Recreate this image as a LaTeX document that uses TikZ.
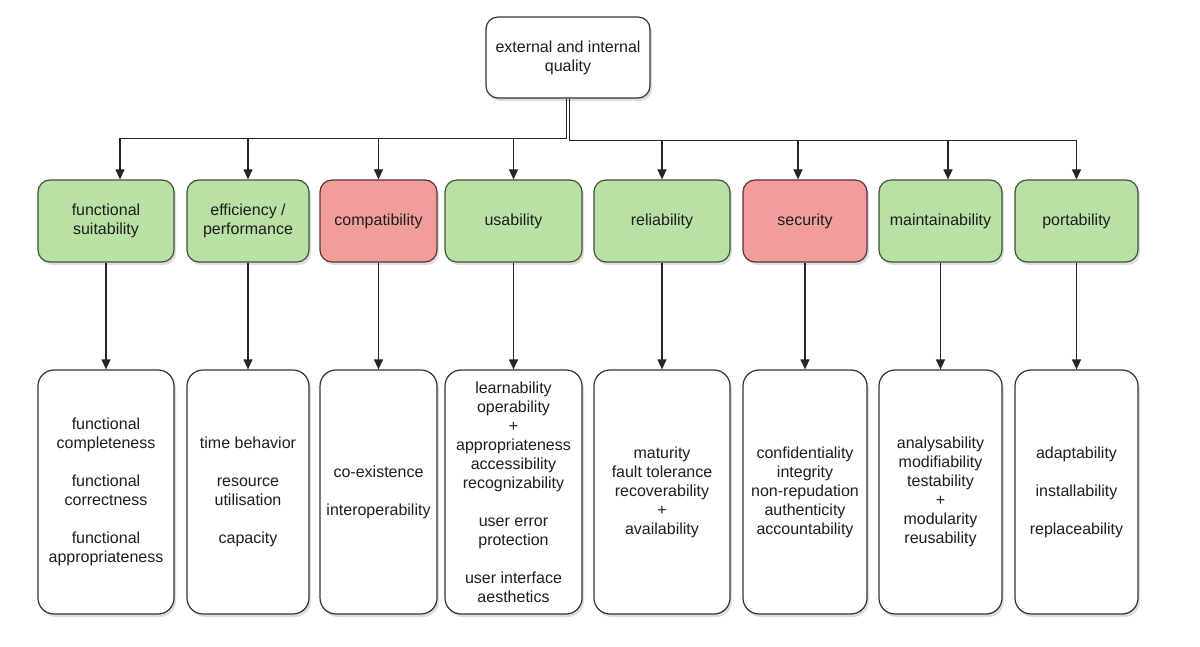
\documentclass[tikz,border=0pt]{standalone}
\usepackage{fontspec}
\setmainfont{Liberation Sans}
\usetikzlibrary{arrows.meta,calc,shadows}
\definecolor{gfill}{RGB}{185,224,165}
\definecolor{gdraw}{RGB}{62,84,52}
\definecolor{rfill}{RGB}{241,157,155}
\definecolor{rdraw}{RGB}{92,52,52}
\definecolor{txt}{RGB}{30,30,30}
\tikzset{
  base/.style={rounded corners=12pt, line width=1.2pt, inner sep=0pt, align=center,
    font=\fontsize{16}{19}\selectfont, text=txt,
    drop shadow={shadow xshift=2pt, shadow yshift=-3pt, opacity=0.22, fill=black!60}},
  topbox/.style={base, draw=black!80, fill=white, minimum width=164pt, minimum height=81pt},
  gbox/.style={base, draw=gdraw, fill=gfill, minimum height=82pt},
  rbox/.style={base, draw=rdraw, fill=rfill, minimum height=82pt},
  lbox/.style={base, rounded corners=16pt, draw=black!80, fill=white, minimum height=244pt},
  arr/.style={line width=1.2pt, draw=black!85, -{Triangle[length=10pt,width=9pt]}},
}
\begin{document}
\begin{tikzpicture}[x=1pt,y=-1pt]
\useasboundingbox (0,0) rectangle (1200,647);
\fill[white] (0,0) rectangle (1200,647);

\node[topbox] (q) at (568,57.5) {external and internal\\quality};

\node[gbox, minimum width=136pt] (m1) at (106,221) {functional\\suitability};
\node[gbox, minimum width=122pt] (m2) at (248,221) {efficiency /\\performance};
\node[rbox, minimum width=117pt] (m3) at (378.5,221) {compatibility};
\node[gbox, minimum width=137pt] (m4) at (513.5,221) {usability};
\node[gbox, minimum width=136pt] (m5) at (662,221) {reliability};
\node[rbox, minimum width=124pt] (m6) at (805,221) {security};
\node[gbox, minimum width=123pt] (m7) at (940.5,221) {maintainability};
\node[gbox, minimum width=123pt] (m8) at (1076.5,221) {portability};

\node[lbox, minimum width=136pt] (b1) at (106,492) {functional\\completeness\\[19pt]functional\\correctness\\[19pt]functional\\appropriateness};
\node[lbox, minimum width=122pt] (b2) at (248,492) {time behavior\\[19pt]resource\\utilisation\\[19pt]capacity};
\node[lbox, minimum width=117pt] (b3) at (378.5,492) {co-existence\\[19pt]interoperability};
\node[lbox, minimum width=137pt] (b4) at (513.5,492) {learnability\\operability\\+\\appropriateness\\accessibility\\recognizability\\[19pt]user error\\protection\\[19pt]user interface\\aesthetics};
\node[lbox, minimum width=136pt] (b5) at (662,492) {maturity\\fault tolerance\\recoverability\\+\\availability};
\node[lbox, minimum width=124pt] (b6) at (805,492) {confidentiality\\integrity\\non-repudation\\authenticity\\accountability};
\node[lbox, minimum width=123pt] (b7) at (940.5,492) {analysability\\modifiability\\testability\\+\\modularity\\reusability};
\node[lbox, minimum width=123pt] (b8) at (1076.5,492) {adaptability\\[19pt]installability\\[19pt]replaceability};

% top connectors
\draw[arr] ($(q.south)+(-1.5,0)$) |- ($(m1.north)+(14,-41)$) -- ($(m1.north)+(14,0)$);
\draw[arr] ($(q.south)+(-1.5,0)$) |- ($(m2.north)+(0,-41)$) -- (m2.north);
\draw[arr] ($(q.south)+(-1.5,0)$) |- ($(m3.north)+(0,-41)$) -- (m3.north);
\draw[arr] ($(q.south)+(-1.5,0)$) |- ($(m4.north)+(0,-41)$) -- (m4.north);
\draw[arr] ($(q.south)+(1.5,0)$) |- ($(m5.north)+(0,-38.5)$) -- (m5.north);
\draw[arr] ($(q.south)+(1.5,0)$) |- ($(m6.north)+(-7,-38.5)$) -- ($(m6.north)+(-7,0)$);
\draw[arr] ($(q.south)+(1.5,0)$) |- ($(m7.north)+(7.5,-38.5)$) -- ($(m7.north)+(7.5,0)$);
\draw[arr] ($(q.south)+(1.5,0)$) |- ($(m8.north)+(0,-38.5)$) -- (m8.north);

% down connectors
\foreach \i in {1,...,8} {
  \draw[arr] (m\i.south) -- (b\i.north);
}
\end{tikzpicture}
\end{document}
